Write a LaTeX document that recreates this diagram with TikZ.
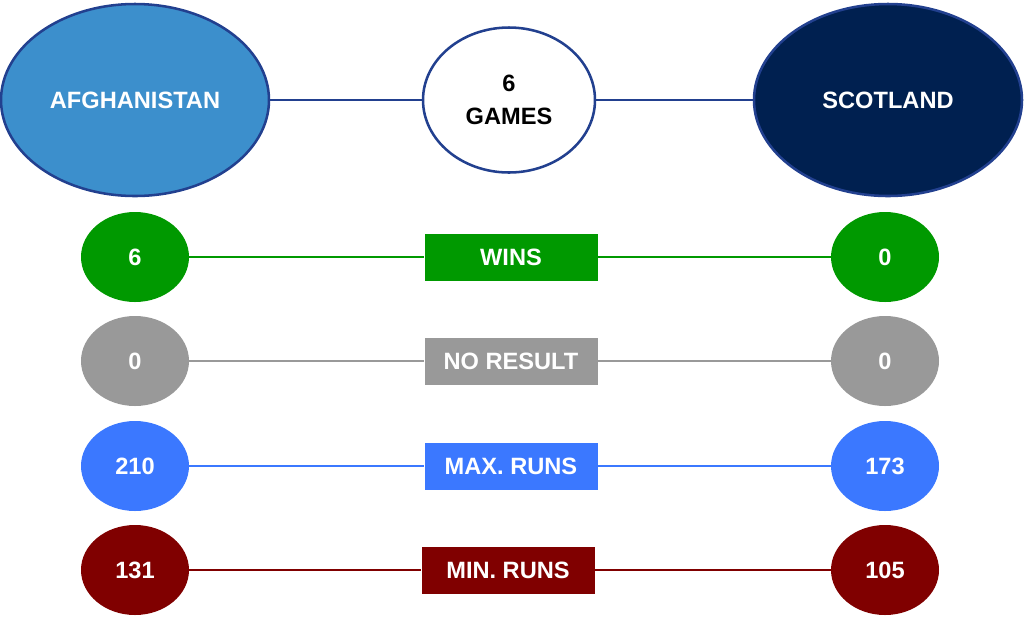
\documentclass[tikz,border=0pt]{standalone}
\usepackage{fontspec}
\setmainfont{Liberation Sans}
\usetikzlibrary{shapes.geometric}

\definecolor{afgblue}{HTML}{3C8FCC}
\definecolor{scotnavy}{HTML}{002050}
\definecolor{edgenavy}{HTML}{22408F}
\definecolor{winsgreen}{HTML}{009900}
\definecolor{nrgray}{HTML}{999999}
\definecolor{maxblue}{HTML}{3B78FF}
\definecolor{minred}{HTML}{800000}

\begin{document}
\begin{tikzpicture}[
      team/.style={
        ellipse,
        draw=edgenavy,
        line width=1.8pt,
        inner sep=0pt,
        minimum width=6.7cm,
        minimum height=4.8cm,
        text=white,
        font=\fontsize{16.8}{20}\selectfont\bfseries
      },
      val/.style={
        ellipse,
        draw=none,
        inner sep=0pt,
        minimum width=2.7cm,
        minimum height=2.25cm,
        text=white,
        font=\fontsize{16.8}{20}\selectfont\bfseries
      },
      stat/.style={
        rectangle,
        draw=none,
        inner sep=0pt,
        minimum width=4.325cm,
        minimum height=1.175cm,
        text=white,
        font=\fontsize{16.8}{20}\selectfont\bfseries
      },
      link/.style={line width=2pt}
    ]
    \useasboundingbox (0,0) rectangle (25.6,-15.4);

    % Teams
    \node[team, fill=afgblue] (Afg) at (3.375,-2.5) {AFGHANISTAN};
    \node[team, fill=scotnavy] (Scot) at (22.2,-2.5) {SCOTLAND};
    \node[team, fill=white, text=black, minimum width=4.3cm, minimum height=3.625cm, align=center,
          font=\fontsize{16.8}{23}\selectfont\bfseries] (Games) at (12.725,-2.5) {6\\GAMES};

    % Team links
    \draw[link, edgenavy] (Afg.east) -- (Games.west);
    \draw[link, edgenavy] (Games.east) -- (Scot.west);

    % Wins
    \node[val, fill=winsgreen] (AfgWins) at (3.375,-6.425) {6};
    \node[stat, fill=winsgreen] (Wins) at (12.775,-6.425) {WINS};
    \node[val, fill=winsgreen] (ScotWins) at (22.125,-6.425) {0};

    % No result
    \node[val, fill=nrgray, yshift=-2.6cm] (AfgNR) at (AfgWins) {0};
    \node[stat, fill=nrgray, yshift=-2.6cm] (NR) at (Wins) {NO RESULT};
    \node[val, fill=nrgray, yshift=-2.6cm] (ScotNR) at (ScotWins) {0};

    % Max. runs
    \node[val, fill=maxblue, yshift=-2.625cm] (AfgMax) at (AfgNR) {210};
    \node[stat, fill=maxblue, yshift=-2.625cm] (Max) at (NR) {MAX. RUNS};
    \node[val, fill=maxblue, yshift=-2.625cm] (ScotMax) at (ScotNR) {173};

    % Min. runs
    \node[val, fill=minred, yshift=-2.6cm] (AfgMin) at (AfgMax) {131};
    \node[stat, fill=minred, yshift=-2.6cm, xshift=-0.075cm] (Min) at (Max) {MIN. RUNS};
    \node[val, fill=minred, yshift=-2.6cm] (ScotMin) at (ScotMax) {105};

    % Row links
    \draw[link, winsgreen] (AfgWins) -- (Wins) -- (ScotWins);
    \draw[link, nrgray] (AfgNR) -- (NR) -- (ScotNR);
    \draw[link, maxblue] (AfgMax) -- (Max) -- (ScotMax);
    \draw[link, minred] (AfgMin) -- (Min) -- (ScotMin);
    \end{tikzpicture}
\end{document}
